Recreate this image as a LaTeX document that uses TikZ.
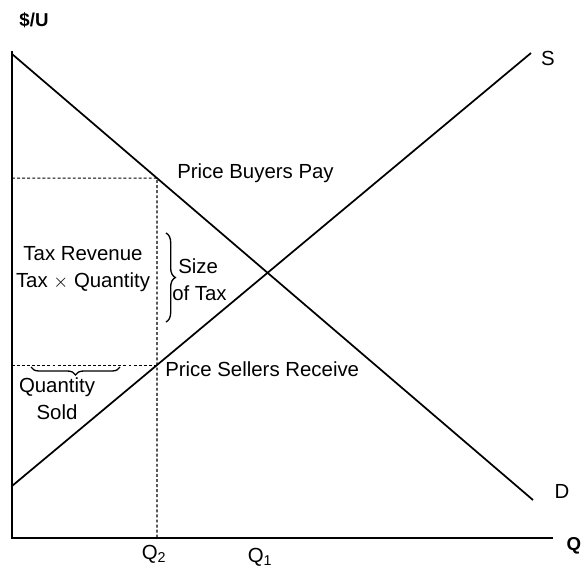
\documentclass[tikz,border=0pt]{standalone}
\usepackage{fontspec}
\setmainfont{Liberation Sans}
\usetikzlibrary{calc,decorations.pathreplacing}

\tikzset{
  lbl/.style={font=\fontsize{15.3}{20.5}\selectfont, inner sep=0pt},
  guide/.style={line width=0.8pt, dash pattern=on 2.2pt off 1.6pt},
  curve/.style={line width=1.3pt},
  bracket/.style={line width=1pt, decorate, decoration={brace, amplitude=#1}}
}

\begin{document}
\begin{tikzpicture}[x=0.75pt, y=-0.75pt]
    \useasboundingbox (0,0) rectangle (585,575);

    % Axes
    \coordinate (O) at (12,538);
    \coordinate (ytop) at (12,51);
    \coordinate (xend) at (553,538);
    \draw[line width=1.5pt] (ytop) -- (O) -- (xend);
    \node[lbl, font=\bfseries\fontsize{14}{15}\selectfont] (yname) at (34,20) {\$/U};
    \node[lbl, font=\bfseries\fontsize{14}{15}\selectfont] (xname) at (574,546) {Q};

    % Demand: from the top of the axis down to (533,500)
    \coordinate (dtop) at (12,54);
    \coordinate (dend) at (533,500);
    \draw[curve] (dtop) -- (dend);
    \node[lbl] (dlab) at (562,491) {D};

    % Supply: from (12,486) up to (531,53)
    \coordinate (sbot) at (12,486);
    \coordinate (send) at (531,53);
    \draw[curve] (sbot) -- (send);
    \node[lbl] (slab) at (548,58) {S};

    % Quantity after the tax: Q2 at x = 157
    % on D: 145/521 of the way, on S: 145/519 of the way
    \coordinate (buy) at ($(dtop)!{145/521}!(dend)$);
    \coordinate (sell) at ($(sbot)!{145/519}!(send)$);
    \coordinate (q2) at (157,538);
    \coordinate (buyaxis) at (O |- buy);
    \coordinate (sellaxis) at (O |- sell);
    \draw[guide] (buyaxis) -- (buy) -- (q2);
    \draw[guide] (sellaxis) -- (sell);

    \node[lbl, anchor=west] (buylab) at (177,173) {Price Buyers Pay};
    \node[lbl, anchor=west] (selllab) at (165,369) {Price Sellers Receive};

    \node[lbl] (q2lab) at (154,554) {Q\textsubscript{2}};
    \node[lbl] (q1lab) at (260,557) {Q\textsubscript{1}};

    % Revenue box
    \node[lbl, align=center] (rev) at (83,269) {Tax Revenue\\Tax $\times$ Quantity};

    % Size of the tax
    \coordinate (brtop) at (166,233);
    \coordinate (brbot) at (166,322);
    \draw[bracket=7pt] (brtop) -- (brbot);
    \node[lbl, anchor=west] (size) at (178,266) {Size};
    \node[lbl, anchor=west] (oftax) at (172,293) {of Tax};

    % Quantity sold
    \coordinate (qsr) at (120,367);
    \coordinate (qsl) at (31,367);
    \draw[bracket=6pt] (qsr) -- (qsl);
    \node[lbl, align=center] (qsold) at (57,399) {Quantity\\Sold};
\end{tikzpicture}
\end{document}
